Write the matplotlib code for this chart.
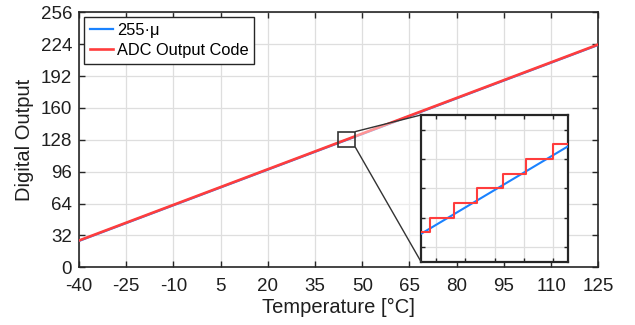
import matplotlib
matplotlib.use("Agg")
import matplotlib.pyplot as plt
from matplotlib.patches import Rectangle, Polygon, ConnectionPatch

plt.rcParams['font.family'] = ['Liberation Sans', 'DejaVu Sans']
plt.rcParams['axes.unicode_minus'] = False

# ideal 255*mu line (end points)
temp = [-40, 125]
ideal = [26.5, 223.3]
# ADC output code, visually on top of the ideal line in the main view
adc_main = [26.9, 223.7]

# staircase seen inside the zoom window
step_edges = [42.5, 42.82, 43.61, 44.39, 45.29, 46.08, 46.99, 47.5]
step_codes = [125, 126, 127, 128, 129, 130, 131]

xticks = [-40, -25, -10, 5, 20, 35, 50, 65, 80, 95, 110, 125]
yticks = [0, 32, 64, 96, 128, 160, 192, 224, 256]

zoom_box = (42.45, 120.3, 47.85, 136.3)   # x0, y0, x1, y1 in main data
inset_xlim = (42.5, 47.5)
inset_ylim = (123, 133)
inset_xticks = [43, 44, 45, 46, 47]
inset_yticks = [124, 126, 128, 130, 132]

blue = '#1a82ff'
red = '#ff3d3d'
axcol = '#262626'
gridcol = '#dedede'
txtcol = '#1f1f1f'

fig = plt.figure(figsize=(6.35, 3.25), dpi=100)
ax = fig.add_axes([0.1244, 0.1775, 0.8178, 0.7846])

ax.plot(temp, ideal, color=blue, lw=1.6, label='255·μ', zorder=3)
ax.plot(temp, adc_main, color=red, lw=1.9, label='ADC Output Code', zorder=4)

ax.set_xlim(-40, 125)
ax.set_ylim(0, 256)
ax.set_xticks(xticks)
ax.set_yticks(yticks)
ax.grid(True, color=gridcol, lw=0.9)
ax.set_axisbelow(True)
ax.tick_params(direction='in', top=True, right=True, length=4, width=1,
               color=axcol, labelsize=13.5, labelcolor=txtcol)
ax.tick_params(axis='x', pad=8)
ax.tick_params(axis='y', pad=5)
for s in ax.spines.values():
    s.set_color(axcol)
    s.set_linewidth(1.2)
ax.set_xlabel('Temperature [°C]', fontsize=14.5, color=txtcol, labelpad=2)
ax.set_ylabel('Digital Output', fontsize=14.5, color=txtcol, labelpad=5)

leg = ax.legend(loc='upper left', fontsize=11.8, handlelength=1.45,
                handletextpad=0.2, borderpad=0.35, labelspacing=0.3,
                fancybox=False, framealpha=1, borderaxespad=0.3)
leg.get_frame().set_edgecolor(axcol)
leg.get_frame().set_linewidth(1.0)

# zoom window on the main axes
bx0, by0, bx1, by1 = zoom_box
ax.add_patch(Rectangle((bx0, by0), bx1 - bx0, by1 - by0, fill=False,
                       ec='#333333', lw=1.2, zorder=6))

ax_in = fig.add_axes([0.663, 0.1948, 0.2315, 0.4514])
ax_in.plot(temp, ideal, color=blue, lw=1.5, zorder=3)
ax_in.step(step_edges, step_codes + [step_codes[-1]], where='post',
           color=red, lw=1.5, zorder=4)
ax_in.set_xlim(*inset_xlim)
ax_in.set_ylim(*inset_ylim)
ax_in.set_xticks(inset_xticks)
ax_in.set_yticks(inset_yticks)
ax_in.set_xticklabels([])
ax_in.set_yticklabels([])
ax_in.grid(True, color=gridcol, lw=0.9)
ax_in.set_axisbelow(True)
ax_in.tick_params(direction='in', top=True, right=True, length=3, width=1,
                  color=axcol)
for s in ax_in.spines.values():
    s.set_color(axcol)
    s.set_linewidth(1.6)

# translucent cone + connector lines between window and inset
to_main = ax_in.transAxes + ax.transData.inverted()
tl = to_main.transform((0, 1))
bl = to_main.transform((0, 0))
ax.add_patch(Polygon([(bx1, by1), tl, bl, (bx1, by0)], closed=True,
                     fc='white', ec='none', alpha=0.45, zorder=5))
for (px, py), corner in [((bx1, by1), (0, 1)), ((bx1, by0), (0, 0))]:
    con = ConnectionPatch(xyA=(px, py), coordsA=ax.transData,
                          xyB=corner, coordsB=ax_in.transAxes,
                          color='#333333', lw=1.0, zorder=6)
    fig.add_artist(con)

fig.savefig('out.png', dpi=100)
